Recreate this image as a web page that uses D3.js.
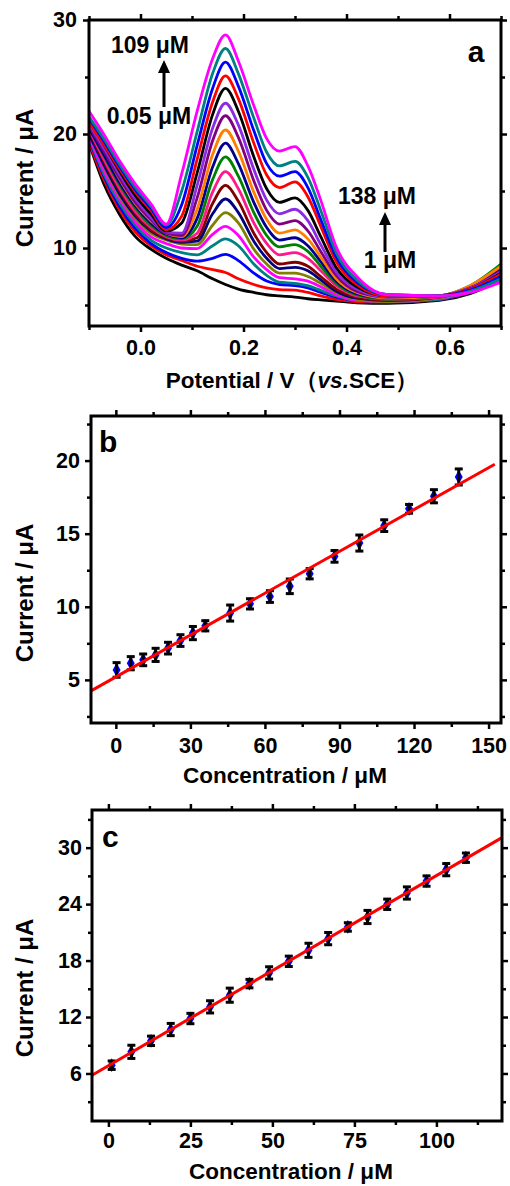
<!DOCTYPE html>
<html lang="en">
<head>
<meta charset="UTF-8">
<script src="https://d3js.org/d3.v7.min.js"></script>
<style>
  body { margin: 0; background: #fff; }
  svg text { font-family: "Liberation Sans", Arial, sans-serif; font-weight: bold; fill: #000; }
</style>
</head>
<body>
<div id="chart"></div>
<script>
// ---- panel a: DPV curves (potential grid, currents in uA) ----
const potential = [-0.1, -0.07, -0.04, -0.01, 0.02, 0.05, 0.08, 0.11, 0.14, 0.165, 0.19, 0.22, 0.245, 0.27, 0.3, 0.325, 0.35, 0.38, 0.42, 0.48, 0.58, 0.64, 0.7];
const dpvCurrents = [
  [19.2, 15.5, 12.9, 11.0, 9.9, 9.1, 8.5, 8.0, 7.3, 6.8, 6.4, 6.1, 5.9, 5.8, 5.7, 5.55, 5.45, 5.35, 5.2, 5.15, 5.4, 6.0, 7.2],
  [19.3, 15.9, 13.3, 11.4, 10.2, 9.4, 8.9, 8.4, 8.1, 7.85, 7.3, 6.8, 6.5, 6.35, 6.3, 6.1, 5.8, 5.5, 5.3, 5.25, 5.5, 6.2, 7.6],
  [19.6, 16.2, 13.6, 11.7, 10.4, 9.6, 9.1, 8.85, 9.1, 9.45, 8.9, 7.8, 7.1, 6.8, 6.7, 6.5, 6.1, 5.7, 5.4, 5.3, 5.5, 6.2, 7.4],
  [19.7, 16.4, 13.9, 12.0, 10.7, 10.0, 9.6, 9.4, 10.2, 10.8, 10.2, 8.6, 7.6, 7.0, 6.9, 6.7, 6.3, 5.8, 5.4, 5.3, 5.5, 6.3, 7.5],
  [19.8, 16.7, 14.2, 12.3, 11.0, 10.4, 10.0, 9.95, 11.2, 11.9, 11.1, 9.2, 8.1, 7.4, 7.3, 7.1, 6.6, 5.9, 5.4, 5.3, 5.6, 6.1, 7.2],
  [20.2, 17.1, 14.5, 12.6, 11.3, 10.7, 10.35, 10.3, 12.0, 13.1, 12.2, 9.9, 8.6, 7.8, 7.8, 7.5, 6.9, 6.1, 5.5, 5.3, 5.6, 6.5, 8.1],
  [20.0, 17.2, 14.7, 12.8, 11.5, 10.8, 10.5, 10.6, 13.0, 14.3, 13.1, 10.6, 9.1, 8.2, 8.3, 8.0, 7.2, 6.2, 5.6, 5.4, 5.7, 6.4, 7.9],
  [20.3, 17.5, 15.0, 13.0, 11.6, 10.9, 10.6, 10.9, 13.9, 15.5, 14.1, 11.3, 9.6, 8.6, 8.75, 8.4, 7.5, 6.4, 5.7, 5.4, 5.7, 6.5, 8.2],
  [20.4, 17.7, 15.2, 13.2, 11.8, 11.0, 10.7, 11.3, 14.9, 16.7, 15.2, 12.2, 10.4, 9.4, 9.6, 9.1, 8.0, 6.7, 5.8, 5.5, 5.7, 6.5, 8.0],
  [20.6, 18.0, 15.5, 13.5, 12.0, 11.1, 10.8, 11.9, 16.0, 18.0, 16.3, 13.1, 11.1, 10.1, 10.3, 9.7, 8.4, 6.9, 5.9, 5.5, 5.8, 6.7, 8.6],
  [20.5, 18.1, 15.7, 13.7, 12.2, 11.2, 10.9, 12.6, 17.1, 19.2, 17.4, 14.0, 11.8, 10.7, 10.9, 10.2, 8.8, 7.1, 6.0, 5.6, 5.8, 6.6, 8.3],
  [21.0, 18.6, 16.0, 13.9, 12.4, 11.3, 11.0, 13.4, 18.2, 20.35, 18.5, 14.9, 12.5, 11.3, 11.6, 10.8, 9.2, 7.3, 6.1, 5.6, 5.8, 6.7, 8.4],
  [20.7, 18.4, 16.1, 14.0, 12.5, 11.3, 11.1, 14.4, 19.4, 21.6, 19.7, 15.9, 13.3, 12.1, 12.4, 11.5, 9.7, 7.6, 6.2, 5.7, 5.8, 6.5, 8.0],
  [20.9, 18.7, 16.4, 14.3, 12.7, 11.4, 11.3, 15.5, 20.5, 22.7, 20.8, 16.9, 14.2, 13.0, 13.4, 12.4, 10.3, 7.9, 6.4, 5.7, 5.8, 6.5, 7.9],
  [21.2, 19.0, 16.7, 14.6, 13.0, 11.5, 12.2, 16.6, 21.7, 24.0, 22.0, 18.0, 15.2, 14.0, 14.4, 13.3, 11.0, 8.3, 6.6, 5.8, 5.8, 6.4, 7.8],
  [21.0, 19.0, 16.9, 14.9, 13.3, 11.6, 12.8, 17.8, 22.8, 25.1, 23.1, 19.2, 16.4, 15.3, 15.8, 14.5, 11.9, 8.8, 6.8, 5.8, 5.8, 6.4, 7.7],
  [21.4, 19.3, 17.1, 15.1, 13.5, 11.8, 13.8, 19.0, 24.0, 26.3, 24.2, 20.3, 17.4, 16.3, 16.7, 15.3, 12.5, 9.2, 7.0, 5.9, 5.8, 6.3, 7.5],
  [21.5, 19.5, 17.3, 15.3, 13.7, 12.0, 15.0, 20.2, 25.3, 27.5, 25.3, 21.4, 18.4, 17.2, 17.6, 16.2, 13.3, 9.6, 7.2, 5.9, 5.8, 6.2, 7.3],
  [22.0, 19.9, 17.6, 15.6, 13.9, 12.1, 16.5, 22.0, 26.6, 28.7, 26.4, 22.5, 19.6, 18.5, 18.9, 17.2, 14.2, 10.1, 7.5, 5.9, 5.8, 6.1, 7.0]
];
const curveColors = ["#000000", "#ff0000", "#0000ff", "#008080", "#ff00ff", "#808000", "#000080", "#800000", "#ff1a8c",
  "#008000", "#000090", "#ff8000", "#800080", "#8b2be2", "#000000", "#ff0000", "#0000ff", "#008080", "#ff00ff"];

// ---- panel b: calibration 1 ----
const concB = [0.3, 6, 11, 16, 21, 26, 31, 36, 46, 54, 62, 70, 78, 88, 98, 108, 118, 128, 138];
const currentB = [5.68, 6.14, 6.37, 6.71, 7.17, 7.69, 8.2, 8.7, 9.57, 10.2, 10.7, 11.4, 12.26, 13.45, 14.36, 15.55, 16.7, 17.56, 18.88];
const errB = [0.5, 0.45, 0.4, 0.45, 0.4, 0.4, 0.45, 0.35, 0.55, 0.35, 0.4, 0.5, 0.35, 0.4, 0.55, 0.4, 0.3, 0.45, 0.55];
const fitBx = [-10, 152.5];
const fitBy = [4.25, 19.75];

// ---- panel c: calibration 2 ----
const concC = [1, 7, 13, 19, 25, 31, 37, 43, 49, 55, 61, 67, 73, 79, 85, 91, 97, 103, 109];
const currentC = [6.88, 8.3, 9.47, 10.67, 11.84, 13.08, 14.32, 15.55, 16.69, 17.92, 19.09, 20.33, 21.57, 22.63, 23.98, 25.18, 26.45, 27.66, 28.93];
const errC = [0.45, 0.7, 0.5, 0.65, 0.55, 0.65, 0.75, 0.45, 0.65, 0.55, 0.75, 0.65, 0.45, 0.7, 0.55, 0.65, 0.55, 0.65, 0.5];
const fitCx = [-5, 120];
const fitCy = [5.82, 31.06];

const svg = d3.select("#chart").append("svg")
  .attr("width", 510).attr("height", 1186);

// frame with mirrored outward ticks on all four sides
function frame(x, y, o) {
  const [L, R] = x.range(), [B, T] = y.range();
  const g = svg.append("g");
  const sides = [
    [d3.axisBottom(x), `translate(0,${B})`, o.xMajor, o.xMinor, o.xFmt, o.xPad],
    [d3.axisTop(x), `translate(0,${T})`, o.xMajor, o.xMinor, null, 0],
    [d3.axisLeft(y), `translate(${L},0)`, o.yMajor, o.yMinor, o.yFmt, o.yPad],
    [d3.axisRight(y), `translate(${R},0)`, o.yMajor, o.yMinor, null, 0]
  ];
  sides.forEach(([ax, tr, major, minor, fmt, pad]) => {
    const gm = g.append("g").attr("transform", tr)
      .call(ax.tickValues(minor).tickSize(4).tickFormat(""));
    gm.select(".domain").remove();
    const gM = g.append("g").attr("transform", tr)
      .call(ax.tickValues(major).tickSize(6).tickPadding(pad).tickFormat(fmt || (() => "")));
    gM.select(".domain").remove();
    gM.selectAll("text").style("font-size", "21.5px").style("font-family", '"Liberation Sans", Arial, sans-serif').style("font-weight", "bold");
    g.selectAll("line").attr("stroke-width", 2.5);
  });
  g.append("rect").attr("x", L).attr("y", T).attr("width", R - L).attr("height", B - T)
    .attr("fill", "none").attr("stroke", "#000").attr("stroke-width", 3);
}

function yTitle(cy, text) {
  svg.append("text").attr("transform", `translate(33,${cy}) rotate(-90)`)
    .attr("text-anchor", "middle").style("font-size", "24px").text(text);
}
function xTitle(cx, by, text) {
  return svg.append("text").attr("x", cx).attr("y", by).attr("text-anchor", "middle")
    .style("font-size", "22.5px").text(text);
}
function arrow(x, yTail, yHead) {
  svg.append("line").attr("x1", x).attr("x2", x).attr("y1", yTail).attr("y2", yHead + 10)
    .attr("stroke", "#000").attr("stroke-width", 3);
  svg.append("path").attr("d", `M${x - 6},${yHead + 13}L${x},${yHead}L${x + 6},${yHead + 13}Z`).attr("fill", "#000");
}

// ===== panel a =====
const xa = d3.scaleLinear().domain([-0.1, 0.7]).range([89, 501]);
const ya = d3.scaleLinear().domain([3.16, 30]).range([326, 20]);
svg.append("clipPath").attr("id", "clipA").append("rect")
  .attr("x", 89).attr("y", 20).attr("width", 412).attr("height", 306);
const lineA = d3.line().x((d, i) => xa(potential[i])).y(d => ya(d)).curve(d3.curveMonotoneX);
svg.append("g").attr("clip-path", "url(#clipA)")
  .selectAll("path").data(dpvCurrents).join("path")
  .attr("d", lineA).attr("fill", "none")
  .attr("stroke", (d, i) => curveColors[i]).attr("stroke-width", 2.8)
  .attr("stroke-linejoin", "round");
frame(xa, ya, {
  xMajor: [0, 0.2, 0.4, 0.6], xMinor: [-0.1, 0.1, 0.3, 0.5, 0.7], xFmt: d3.format(".1f"), xPad: 8,
  yMajor: [10, 20, 30], yMinor: [5, 15, 25], yFmt: d3.format("d"), yPad: 6
});
yTitle(178, "Current / μA");
const ta = xTitle(292, 388, "Potential / V");
ta.append("tspan").text("（");
ta.append("tspan").style("font-style", "italic").text("vs.");
ta.append("tspan").text("SCE");
ta.append("tspan").text("）");
svg.append("text").attr("x", 476).attr("y", 62).attr("text-anchor", "middle").style("font-size", "30px").text("a");
svg.append("text").attr("x", 150).attr("y", 53).attr("text-anchor", "middle").style("font-size", "23px").text("109 μM");
arrow(164, 107, 60);
svg.append("text").attr("x", 149).attr("y", 124).attr("text-anchor", "middle").style("font-size", "23px").text("0.05 μM");
svg.append("text").attr("x", 377).attr("y", 204).attr("text-anchor", "middle").style("font-size", "23px").text("138 μM");
arrow(385, 252, 212);
svg.append("text").attr("x", 390).attr("y", 268).attr("text-anchor", "middle").style("font-size", "23px").text("1 μM");

// ===== calibration panels =====
function calib(x, y, conc, cur, err, fx, fy) {
  const pts = conc.map((c, i) => ({ c, v: cur[i], e: err[i] }));
  const g = svg.append("g");
  g.selectAll("path.m").data(pts).join("path").attr("class", "m")
    .attr("transform", d => `translate(${x(d.c)},${y(d.v)})`)
    .attr("d", d3.symbol(d3.symbolDiamond).size(55)).attr("fill", "#0000ff");
  const eb = g.selectAll("g.eb").data(pts).join("g").attr("class", "eb").attr("stroke", "#000").attr("stroke-width", 3);
  eb.append("line").attr("x1", d => x(d.c)).attr("x2", d => x(d.c)).attr("y1", d => y(d.v - d.e)).attr("y2", d => y(d.v + d.e));
  eb.append("line").attr("x1", d => x(d.c) - 4).attr("x2", d => x(d.c) + 4).attr("y1", d => y(d.v - d.e)).attr("y2", d => y(d.v - d.e));
  eb.append("line").attr("x1", d => x(d.c) - 4).attr("x2", d => x(d.c) + 4).attr("y1", d => y(d.v + d.e)).attr("y2", d => y(d.v + d.e));
  g.append("path").datum(fx.map((c, i) => [c, fy[i]]))
    .attr("d", d3.line().x(d => x(d[0])).y(d => y(d[1])))
    .attr("stroke", "#ff0000").attr("stroke-width", 3).attr("fill", "none");
}

// ===== panel b =====
const xb = d3.scaleLinear().domain([-10, 155]).range([91, 501]);
const yb = d3.scaleLinear().domain([2.05, 23.05]).range([723, 416]);
calib(xb, yb, concB, currentB, errB, fitBx, fitBy);
frame(xb, yb, {
  xMajor: [0, 30, 60, 90, 120, 150], xMinor: [15, 45, 75, 105, 135], xFmt: d3.format("d"), xPad: 9,
  yMajor: [5, 10, 15, 20], yMinor: [2.5, 7.5, 12.5, 17.5, 22.5], yFmt: d3.format("d"), yPad: 5
});
yTitle(593, "Current / μA");
xTitle(285, 783, "Concentration / μM");
svg.append("text").attr("x", 99).attr("y", 452).style("font-size", "30px").text("b");

// ===== panel c =====
const xc = d3.scaleLinear().domain([-5, 120]).range([92, 502]);
const yc = d3.scaleLinear().domain([0.95, 34]).range([1121, 810]);
calib(xc, yc, concC, currentC, errC, fitCx, fitCy);
frame(xc, yc, {
  xMajor: [0, 25, 50, 75, 100], xMinor: [12.5, 37.5, 62.5, 87.5, 112.5], xFmt: d3.format("d"), xPad: 6,
  yMajor: [6, 12, 18, 24, 30], yMinor: [3, 9, 15, 21, 27, 33], yFmt: d3.format("d"), yPad: 4
});
yTitle(988, "Current / μA");
xTitle(291, 1179, "Concentration / μM");
svg.append("text").attr("x", 102).attr("y", 847).style("font-size", "30px").text("c");
</script>
</body>
</html>
